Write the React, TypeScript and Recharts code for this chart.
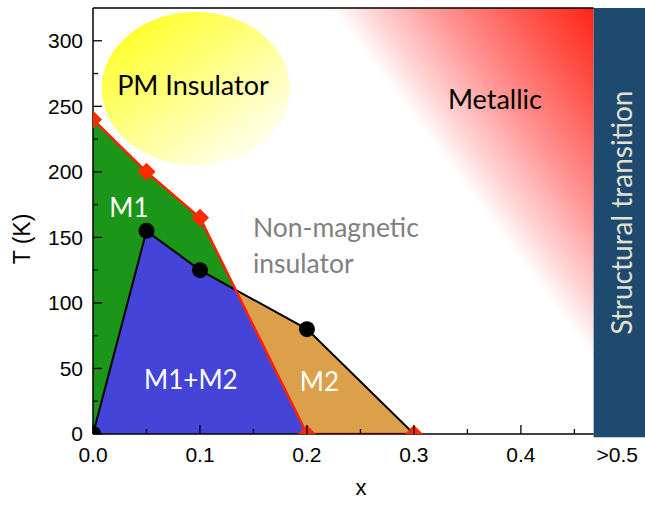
import {
  Area,
  ComposedChart,
  Label,
  Line,
  ReferenceArea,
  ReferenceDot,
  ReferenceLine,
  Scatter,
  XAxis,
  YAxis,
} from "recharts";

// M1 onset (red diamonds) and M2 onset (black circles) vs doping x, in K
const dopingX = [0, 0.05, 0.1, 0.2, 0.3];
const m1Onset = [240, 200, 165, 0, 0];
const m2Doping = [0, 0.05, 0.1, 0.2];
const m2Onset = [0, 155, 125, 80];

const xTicks = [0, 0.05, 0.1, 0.15, 0.2, 0.25, 0.3, 0.35, 0.4, 0.45, 0.49];
const xTickLabels = ["0.0", "", "0.1", "", "0.2", "", "0.3", "", "0.4", "", ">0.5"];
const yTicks = [0, 25, 50, 75, 100, 125, 150, 175, 200, 225, 250, 275, 300];
const yTickLabels = ["0", "", "50", "", "100", "", "150", "", "200", "", "250", "", "300"];

const X_MAX = 0.516;
const T_MAX = 325;
const BAND_START = 0.468;

const AXIS_FONT = "'Liberation Sans', Arial, sans-serif";
const TEXT_FONT = "Lato, 'Open Sans', sans-serif";

// the M2 line closes onto the last M1 point at (0.3, 0)
const m2Line = [...m2Onset, m1Onset[m1Onset.length - 1]];

// where the M1 boundary drops below the M2 boundary
function findCrossing() {
  for (let i = 0; i < dopingX.length - 1; i++) {
    const d0 = m1Onset[i] - m2Line[i];
    const d1 = m1Onset[i + 1] - m2Line[i + 1];
    if (d0 > 0 && d1 < 0) {
      const f = d0 / (d0 - d1);
      return {
        x: dopingX[i] + f * (dopingX[i + 1] - dopingX[i]),
        t: m2Line[i] + f * (m2Line[i + 1] - m2Line[i]),
      };
    }
  }
  return { x: 0, t: 0 };
}
const crossing = findCrossing();

type Row = {
  x: number;
  red: number;
  black: number;
  mix: number;
  m1?: [number, number];
  m2?: [number, number];
};

const rows: Row[] = [
  ...dopingX.map((x, i) => ({ x, red: m1Onset[i], black: m2Line[i] })),
  { x: crossing.x, red: crossing.t, black: crossing.t },
]
  .sort((a, b) => a.x - b.x)
  .map((p) => {
    const row: Row = { ...p, mix: Math.min(p.red, p.black) };
    if (p.x <= crossing.x) row.m1 = [p.black, p.red];
    if (p.x >= crossing.x) row.m2 = [p.red, p.black];
    return row;
  });

const m1Points = dopingX.map((x, i) => ({ x, t: m1Onset[i] }));
const m2Points = m2Doping.map((x, i) => ({ x, t: m2Onset[i] }));

function YTick(props: any) {
  const { x, y, index } = props;
  const label = yTickLabels[index];
  const ax = x + 10;
  return (
    <g>
      <line x1={ax} x2={ax + (label ? 9 : 5)} y1={y} y2={y} stroke="#000" strokeWidth={1.3} />
      {label && (
        <text x={x} y={y} dy="0.35em" textAnchor="end" fontSize={21} fontFamily={AXIS_FONT} fill="#000">
          {label}
        </text>
      )}
    </g>
  );
}

function XTick(props: any) {
  const { x, y, index, payload } = props;
  const label = xTickLabels[index];
  return (
    <g>
      {payload.value < BAND_START && (
        <line x1={x} x2={x} y1={y} y2={y - (label ? 9 : 5)} stroke="#000" strokeWidth={1.3} />
      )}
      <text x={x} y={y + 21} dy="0.35em" textAnchor="middle" fontSize={21} fontFamily={AXIS_FONT} fill="#000">
        {label}
      </text>
    </g>
  );
}

function TopTick(props: any) {
  const { x, y, index } = props;
  return <line x1={x} x2={x} y1={y} y2={y + (xTickLabels[index] ? 9 : 5)} stroke="#000" strokeWidth={1.3} />;
}

function Diamond(p: any) {
  const { cx, cy } = p;
  const s = 9;
  return <polygon points={`${cx},${cy - s} ${cx + s},${cy} ${cx},${cy + s} ${cx - s},${cy}`} fill="#ff2a00" />;
}

function Dot(p: any) {
  return <circle cx={p.cx} cy={p.cy} r={8} fill="#000" />;
}

function Ellipse(p: any) {
  const { x, y, width, height } = p;
  return <ellipse cx={x + width / 2} cy={y + height / 2} rx={width / 2} ry={height / 2} fill="url(#pmGrad)" />;
}

function Band(p: any) {
  const { x, y, width, height } = p;
  const cx = x + width / 2 + 3;
  const cy = y + height / 2 - 10;
  return (
    <g>
      <rect x={x} y={y} width={width} height={height} fill="#1f4a6f" />
      <text
        x={cx}
        y={cy}
        dy="0.35em"
        textAnchor="middle"
        transform={`rotate(-90, ${cx}, ${cy})`}
        fontSize={28}
        fontFamily={TEXT_FONT}
        fill="#e4e0cf"
      >
        Structural transition
      </text>
    </g>
  );
}

function textAt(text: string, color: string, size: number) {
  return (p: any) => (
    <text x={p.cx} y={p.cy} dy="0.35em" textAnchor="middle" fontSize={size} fontFamily={TEXT_FONT} fill={color}>
      {text}
    </text>
  );
}

function NonMagnetic(p: any) {
  return (
    <text x={p.cx} y={p.cy} fontSize={26.5} fontFamily={TEXT_FONT} fill="#808080">
      <tspan x={p.cx}>Non-magnetic</tspan>
      <tspan x={p.cx} dy={36}>
        insulator
      </tspan>
    </text>
  );
}

export default function App() {
  return (
    <div style={{ position: "absolute", left: 0, top: 0, background: "#fff" }}>
      <ComposedChart width={645} height={506} data={rows} margin={{ top: 8, right: 0, bottom: 0, left: 0 }}>
        <defs>
          <linearGradient id="metalGrad" x1="1" y1="0" x2="0.626" y2="0.238">
            <stop offset="0" stopColor="#ff2414" />
            <stop offset="0.3" stopColor="#ff5a52" />
            <stop offset="0.6" stopColor="#ff9696" />
            <stop offset="0.85" stopColor="#ffd4d4" />
            <stop offset="1" stopColor="#ffffff" />
          </linearGradient>
          <linearGradient id="pmGrad" x1="0.15" y1="0.1" x2="0.9" y2="0.95">
            <stop offset="0" stopColor="#ffff2a" />
            <stop offset="1" stopColor="#ffffff" />
          </linearGradient>
        </defs>

        <XAxis
          dataKey="x"
          type="number"
          domain={[0, X_MAX]}
          ticks={xTicks}
          interval={0}
          allowDataOverflow
          height={72}
          tickSize={0}
          tickMargin={0}
          axisLine={false}
          tickLine={false}
          tick={<XTick />}
        >
          <Label
            content={({ viewBox }: any) => (
              <text
                x={viewBox.x + viewBox.width / 2 - 8}
                y={viewBox.y + 61}
                textAnchor="middle"
                fontSize={22}
                fontFamily={AXIS_FONT}
                fill="#000"
              >
                x
              </text>
            )}
          />
        </XAxis>
        <XAxis
          xAxisId="top"
          orientation="top"
          type="number"
          domain={[0, X_MAX]}
          ticks={xTicks.slice(0, -1)}
          interval={0}
          allowDataOverflow
          height={0}
          tickSize={0}
          tickMargin={0}
          axisLine={false}
          tickLine={false}
          tick={<TopTick />}
        />
        <YAxis
          type="number"
          domain={[0, T_MAX]}
          ticks={yTicks}
          interval={0}
          allowDataOverflow
          width={93}
          tickSize={0}
          tickMargin={10}
          axisLine={{ stroke: "#000", strokeWidth: 1.5 }}
          tickLine={false}
          tick={<YTick />}
        >
          <Label
            content={({ viewBox }: any) => {
              const cx = viewBox.x + 22;
              const cy = viewBox.y + viewBox.height / 2 + 18;
              return (
                <text
                  x={cx}
                  y={cy}
                  dy="0.35em"
                  textAnchor="middle"
                  transform={`rotate(-90, ${cx}, ${cy})`}
                  fontSize={23}
                  fontFamily={AXIS_FONT}
                  fill="#000"
                >
                  T (K)
                </text>
              );
            }}
          />
        </YAxis>

        <ReferenceArea x1={0} x2={BAND_START} y1={0} y2={T_MAX} fill="url(#metalGrad)" fillOpacity={1} />
        <ReferenceArea x1={0.0081} x2={0.184} y1={205} y2={322} shape={<Ellipse />} />

        <Area dataKey="m1" type="linear" fill="#1b9619" fillOpacity={1} stroke="none" isAnimationActive={false} />
        <Area dataKey="mix" type="linear" fill="#4444d8" fillOpacity={1} stroke="none" isAnimationActive={false} />
        <Area dataKey="m2" type="linear" fill="#dca04a" fillOpacity={1} stroke="none" isAnimationActive={false} />
        <Line dataKey="black" type="linear" stroke="#000" strokeWidth={2} dot={false} activeDot={false} isAnimationActive={false} />
        <Line dataKey="red" type="linear" stroke="#ff2200" strokeWidth={2.5} dot={false} activeDot={false} isAnimationActive={false} />
        <Scatter data={m2Points} dataKey="t" shape={<Dot />} isAnimationActive={false} />
        <Scatter data={m1Points} dataKey="t" shape={<Diamond />} isAnimationActive={false} />

        <ReferenceLine segment={[{ x: 0, y: 0 }, { x: BAND_START, y: 0 }]} stroke="#000" strokeWidth={1.5} />
        <ReferenceLine segment={[{ x: 0, y: T_MAX }, { x: BAND_START, y: T_MAX }]} stroke="#000" strokeWidth={1.5} />
        <ReferenceArea x1={BAND_START} x2={X_MAX} y1={-2.5} y2={T_MAX} ifOverflow="visible" shape={<Band />} />

        <ReferenceDot x={0.0935} y={266} r={0} shape={textAt("PM Insulator", "#000", 27)} />
        <ReferenceDot x={0.3757} y={255} r={0} shape={textAt("Metallic", "#000", 27)} />
        <ReferenceDot x={0.1495} y={150.6} r={0} shape={<NonMagnetic />} />
        <ReferenceDot x={0.0336} y={172.8} r={0} shape={textAt("M1", "#fff", 26)} />
        <ReferenceDot x={0.0915} y={41} r={0} shape={textAt("M1+M2", "#fff", 26)} />
        <ReferenceDot x={0.2117} y={39.8} r={0} shape={textAt("M2", "#fff", 26)} />
      </ComposedChart>
    </div>
  );
}
